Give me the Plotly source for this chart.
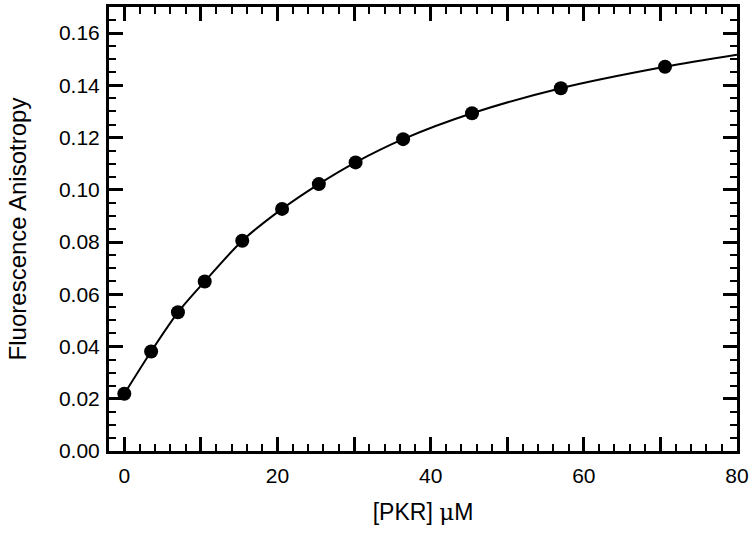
import plotly.graph_objects as go

# Measured data points
pkr_uM = [0, 3.5, 7.0, 10.5, 15.4, 20.6, 25.4, 30.2, 36.4, 45.4, 57.0, 70.6]
anisotropy = [0.0219, 0.0381, 0.0531, 0.0649, 0.0805, 0.0927, 0.1022, 0.1105, 0.1194, 0.1293, 0.1389, 0.1471]

# Fitted curve
fit_x = [0, 3.5, 7.0, 10.5, 15.4, 20.6, 25.4, 30.2, 36.4, 45.4, 57.0, 70.6, 80]
fit_y = [0.0219, 0.0381, 0.0531, 0.0649, 0.0805, 0.0927, 0.1022, 0.1105, 0.1194, 0.1293, 0.1389, 0.1471, 0.1517]

x_major = [0, 10, 20, 30, 40, 50, 60, 70, 80]
x_labels = ["0", "", "20", "", "40", "", "60", "", "80"]
y_major = [0.00, 0.02, 0.04, 0.06, 0.08, 0.10, 0.12, 0.14, 0.16]
y_labels = ["0.00", "0.02", "0.04", "0.06", "0.08", "0.10", "0.12", "0.14", "0.16"]

FONT = "Liberation Sans, Arial, sans-serif"

fig = go.Figure()
fig.add_trace(go.Scatter(x=fit_x, y=fit_y, mode="lines",
                         line=dict(color="black", width=2, shape="spline", smoothing=0.8),
                         showlegend=False, hoverinfo="skip"))
fig.add_trace(go.Scatter(x=pkr_uM, y=anisotropy, mode="markers",
                         marker=dict(color="black", size=14),
                         showlegend=False))

axis_common = dict(showgrid=False, zeroline=False, showline=True, linecolor="black",
                   linewidth=3, mirror="allticks", ticks="inside", ticklen=14,
                   tickwidth=2.5, tickcolor="black",
                   tickfont=dict(family=FONT, size=21, color="black"))

fig.update_xaxes(range=[-2, 80], tickmode="array", tickvals=x_major, ticktext=x_labels,
                 minor=dict(ticks="inside", ticklen=7, tickwidth=2, tickcolor="black", dtick=2, tick0=0),
                 ticklabelstandoff=4,
                 title=dict(text="[PKR] <span style='font-family:DejaVu Serif'>μ</span>M",
                            font=dict(family=FONT, size=23, color="black"), standoff=18),
                 **axis_common)
fig.update_yaxes(range=[0, 0.17], tickmode="array", tickvals=y_major, ticktext=y_labels,
                 minor=dict(ticks="inside", ticklen=7, tickwidth=2, tickcolor="black", dtick=0.005, tick0=0),
                 ticklabelstandoff=2,
                 title=dict(text="Fluorescence Anisotropy", font=dict(family=FONT, size=24, color="black"), standoff=26),
                 **axis_common)

fig.update_layout(width=754, height=535, paper_bgcolor="white", plot_bgcolor="white",
                  margin=dict(l=109, r=17, t=7, b=84, autoexpand=False))

fig.write_html("out.html", config={"displayModeBar": False},
               post_script="document.body.style.margin='0';")
